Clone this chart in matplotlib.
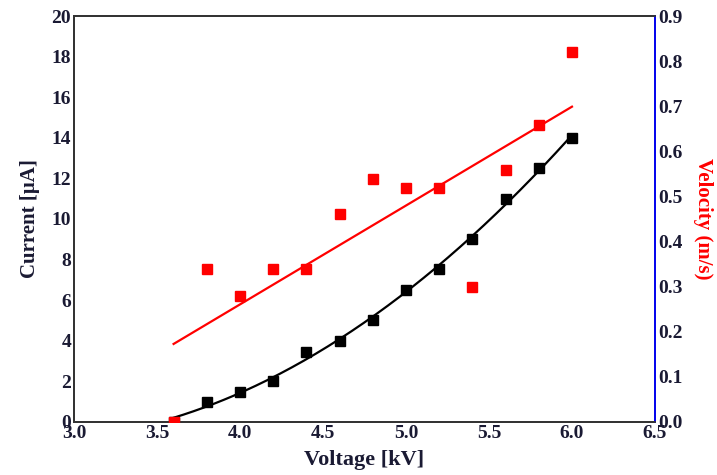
import numpy as np
import matplotlib
matplotlib.use('Agg')
import matplotlib.pyplot as plt

# values
voltage = [3.6, 3.8, 4.0, 4.2, 4.4, 4.6, 4.8, 5.0, 5.2, 5.4, 5.6, 5.8, 6.0]
current = [0.0, 1.0, 1.5, 2.0, 3.46, 4.0, 5.0, 6.5, 7.55, 9.0, 11.0, 12.5, 14.0]
velocity = [0.0, 0.339, 0.280, 0.339, 0.339, 0.460, 0.539, 0.519, 0.519, 0.299, 0.559, 0.659, 0.821]
# red linear fit as drawn
vel_fit_x = [3.6, 6.0]
vel_fit = [0.173, 0.699]

x_ticks = [3.0, 3.5, 4.0, 4.5, 5.0, 5.5, 6.0, 6.5]
y_ticks = [0, 2, 4, 6, 8, 10, 12, 14, 16, 18, 20]
v_ticks = [0.0, 0.1, 0.2, 0.3, 0.4, 0.5, 0.6, 0.7, 0.8, 0.9]

plt.rcParams['font.family'] = ['Liberation Serif', 'DejaVu Serif']
plt.rcParams['font.weight'] = 'bold'
tick_col = '#1a1a33'

fig = plt.figure(figsize=(7.17, 4.75), dpi=100)
ax = fig.add_axes([0.1032, 0.1116, 0.8103, 0.8547])

# quadratic fit for current
coef = np.polyfit(voltage, current, 2)
xs = np.linspace(voltage[0], voltage[-1], 200)
ax.plot(xs, np.polyval(coef, xs), color='black', lw=1.6, zorder=2)
ax.plot(voltage, current, 's', color='black', ms=7, zorder=3)

ax.set_xlim(3.0, 6.5)
ax.set_ylim(0, 20)
ax.set_xticks(x_ticks)
ax.set_xticklabels([f'{t:.1f}' for t in x_ticks])
ax.set_yticks(y_ticks)
ax.tick_params(length=0, labelsize=14, colors=tick_col, pad=2)
for lab in ax.get_xticklabels() + ax.get_yticklabels():
    lab.set_fontweight('bold')
ax.set_xlabel('Voltage [kV]', fontsize=16, fontweight='bold', color=tick_col, labelpad=6)
ax.set_ylabel('Current [μA]', fontsize=15, fontweight='bold', color=tick_col, labelpad=8)
for s in ax.spines.values():
    s.set_color('#333333')
    s.set_linewidth(1.3)

ax2 = ax.twinx()
ax2.plot(vel_fit_x, vel_fit, color='red', lw=1.6, zorder=2)
ax2.plot(voltage, velocity, 's', color='red', ms=7, zorder=3)
ax2.set_ylim(0, 0.9)
ax2.set_yticks(v_ticks)
ax2.set_yticklabels([f'{t:.1f}' for t in v_ticks])
ax2.tick_params(length=0, labelsize=14, colors=tick_col, pad=2)
for lab in ax2.get_yticklabels():
    lab.set_fontweight('bold')
ax2.set_ylabel('Velocity (m/s)', fontsize=15, fontweight='bold', color='red',
               rotation=270, labelpad=22)
for s in ax2.spines.values():
    s.set_color('#333333')
    s.set_linewidth(1.3)
ax2.spines['right'].set_color('blue')

fig.savefig('out.png', dpi=100)
